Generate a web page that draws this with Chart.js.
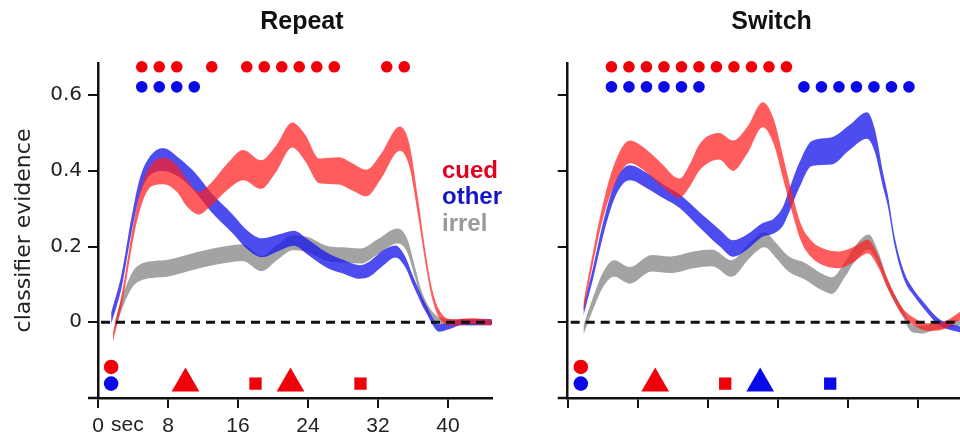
<!DOCTYPE html>
<html>
<head>
<meta charset="utf-8">
<script src="https://cdn.jsdelivr.net/npm/chart.js@4.4.1/dist/chart.umd.min.js"></script>
<style>
  html, body { margin: 0; padding: 0; background: #fff; overflow: hidden; }
  #wrap { position: relative; width: 960px; height: 436px; overflow: hidden; }
  #left { position: absolute; left: 0; top: 0; }
  #right { position: absolute; left: 505px; top: 0; }
</style>
</head>
<body>
<div id="wrap">
  <canvas id="left" width="505" height="436"></canvas>
  <canvas id="right" width="470" height="436"></canvas>
</div>
<script>
// ticks
const xTicks = [0, 8, 16, 24, 32, 40];
const yTicks = [0, 0.2, 0.4, 0.6];

// Repeat panel
const repeatCuedT = [1.7, 2.8, 4.2, 5.2, 6.2, 7.5, 9, 10.2, 11.5, 13, 14.8, 16.6, 18.6, 20.3, 22.2, 23.7, 25.3, 27.5, 29, 30.7, 32.3, 34.5, 35.6, 36.6, 37.5, 38.3, 39.2, 40.5, 42.5, 45];
const repeatCued = [-0.04, 0.07, 0.26, 0.35, 0.39, 0.4, 0.38, 0.34, 0.315, 0.34, 0.385, 0.415, 0.39, 0.43, 0.495, 0.46, 0.4, 0.4, 0.385, 0.368, 0.41, 0.485, 0.44, 0.3, 0.16, 0.065, 0.015, 0.0, 0.003, 0.0];
const repeatCuedErr = [0.012, 0.015, 0.02, 0.025, 0.03, 0.035, 0.035, 0.035, 0.03, 0.03, 0.035, 0.04, 0.038, 0.035, 0.033, 0.035, 0.033, 0.036, 0.036, 0.035, 0.033, 0.032, 0.03, 0.022, 0.015, 0.012, 0.01, 0.008, 0.008, 0.008];

const repeatOtherT = [1.5, 2.7, 3.85, 4.8, 6, 7.5, 9.2, 11.1, 13, 15.3, 17.2, 18.7, 20.6, 22.4, 23.9, 26.1, 28, 29.9, 31, 32.6, 34, 35.1, 36, 37.5, 39, 40.2, 41.5, 43, 45];
const repeatOther = [0.01, 0.11, 0.26, 0.36, 0.415, 0.43, 0.41, 0.37, 0.315, 0.262, 0.215, 0.197, 0.21, 0.222, 0.2, 0.165, 0.147, 0.133, 0.14, 0.17, 0.187, 0.16, 0.11, 0.035, -0.015, -0.01, 0.0, 0.0, 0.0];
const repeatOtherErr = [0.015, 0.018, 0.02, 0.022, 0.025, 0.03, 0.025, 0.025, 0.025, 0.025, 0.025, 0.025, 0.022, 0.02, 0.02, 0.02, 0.018, 0.018, 0.02, 0.02, 0.016, 0.014, 0.012, 0.01, 0.01, 0.008, 0.008, 0.008, 0.008];

const repeatIrrelT = [1.9, 2.9, 4, 5.2, 6.5, 8, 10.3, 12.2, 14.9, 16.5, 18.7, 20.5, 22.3, 24, 26, 28, 30, 32, 34.2, 35.3, 36.2, 37, 38, 39, 40.5, 43, 45];
const repeatIrrel = [-0.01, 0.06, 0.115, 0.135, 0.14, 0.143, 0.157, 0.168, 0.18, 0.184, 0.155, 0.185, 0.21, 0.205, 0.183, 0.178, 0.175, 0.2, 0.228, 0.205, 0.135, 0.07, 0.025, 0.005, 0.0, 0.0, 0.0];
const repeatIrrelErr = [0.012, 0.016, 0.02, 0.022, 0.022, 0.022, 0.022, 0.022, 0.022, 0.022, 0.02, 0.02, 0.02, 0.02, 0.02, 0.02, 0.02, 0.02, 0.02, 0.018, 0.014, 0.012, 0.01, 0.008, 0.008, 0.008, 0.008];

const repeatCuedSig = [5, 7, 9, 13, 17, 19, 21, 23, 25, 27, 33, 35];
const repeatOtherSig = [5, 7, 9, 11];

const repeatMarkT = [1.5, 1.5, 10, 18, 22, 30];
const repeatMarkLevel = [-0.118, -0.162, -0.162, -0.162, -0.162, -0.162];
const repeatMarkShape = ['circle', 'circle', 'triangle', 'rect', 'triangle', 'rect'];
const repeatMarkKind = ['cued', 'other', 'cued', 'cued', 'cued', 'cued'];

// Switch panel
const switchCuedT = [1.8, 2.8, 4.1, 5.5, 7.1, 8.8, 10.5, 12.8, 14, 15.1, 17.3, 18.9, 20.5, 22.3, 23.6, 24.6, 25.6, 26.7, 27.8, 29, 31, 32.6, 34.3, 35.5, 36.6, 38.2, 39.7, 41.2, 42.8, 45];
const switchCued = [0.04, 0.16, 0.3, 0.4, 0.45, 0.43, 0.395, 0.355, 0.39, 0.437, 0.465, 0.44, 0.48, 0.548, 0.5, 0.41, 0.32, 0.235, 0.195, 0.175, 0.165, 0.178, 0.2, 0.16, 0.1, 0.03, 0.0, -0.013, -0.01, 0.02];
const switchCuedErr = [0.012, 0.015, 0.02, 0.028, 0.03, 0.03, 0.03, 0.025, 0.03, 0.035, 0.035, 0.04, 0.035, 0.033, 0.033, 0.03, 0.025, 0.022, 0.022, 0.022, 0.022, 0.02, 0.018, 0.015, 0.012, 0.01, 0.01, 0.01, 0.01, 0.01];

const switchOtherT = [1.8, 2.9, 4.2, 5.6, 7.1, 9, 11, 12.8, 15.1, 17.4, 18.9, 20.5, 22.2, 23.6, 24.6, 25.3, 26.4, 27.9, 30.2, 32.1, 34.2, 35.1, 36, 36.6, 37.4, 38.5, 39.5, 40.5, 42.5, 45];
const switchOther = [0.03, 0.13, 0.26, 0.36, 0.395, 0.375, 0.345, 0.32, 0.27, 0.222, 0.195, 0.212, 0.243, 0.255, 0.28, 0.32, 0.385, 0.446, 0.453, 0.486, 0.52, 0.48, 0.38, 0.32, 0.21, 0.12, 0.08, 0.05, 0.0, -0.02];
const switchOtherErr = [0.012, 0.015, 0.018, 0.02, 0.02, 0.02, 0.018, 0.018, 0.02, 0.022, 0.022, 0.02, 0.018, 0.02, 0.025, 0.03, 0.033, 0.033, 0.036, 0.033, 0.035, 0.03, 0.02, 0.015, 0.012, 0.01, 0.008, 0.008, 0.008, 0.008];

const switchIrrelT = [1.8, 2.9, 4.1, 5.3, 7.1, 9.6, 11.7, 14.4, 16.5, 18.7, 20.8, 22.5, 23.8, 25.2, 27.1, 29, 30.2, 31.7, 32.8, 34.4, 35.5, 36.6, 38.2, 39.3, 40.5, 42, 45];
const switchIrrel = [-0.02, 0.05, 0.115, 0.142, 0.124, 0.156, 0.152, 0.165, 0.17, 0.142, 0.19, 0.218, 0.19, 0.155, 0.135, 0.107, 0.097, 0.14, 0.18, 0.212, 0.17, 0.1, 0.03, -0.015, -0.02, -0.01, 0.0];
const switchIrrelErr = [0.012, 0.016, 0.02, 0.022, 0.022, 0.022, 0.022, 0.022, 0.022, 0.022, 0.02, 0.02, 0.02, 0.02, 0.022, 0.022, 0.022, 0.02, 0.02, 0.02, 0.016, 0.012, 0.01, 0.01, 0.01, 0.01, 0.008];

const switchCuedSig = [5, 7, 9, 11, 13, 15, 17, 19, 21, 23, 25];
const switchOtherSig = [5, 7, 9, 11, 13, 15, 27, 29, 31, 33, 35, 37, 39];

const switchMarkT = [1.5, 1.5, 10, 18, 22, 30];
const switchMarkLevel = [-0.118, -0.162, -0.162, -0.162, -0.162, -0.162];
const switchMarkShape = ['circle', 'circle', 'triangle', 'rect', 'triangle', 'rect'];
const switchMarkKind = ['cued', 'other', 'cued', 'cued', 'other', 'other'];

const sigLevel = {cued: 0.675, other: 0.622};

const bandColor = {cued: 'rgba(255,30,30,0.72)', other: 'rgba(25,25,235,0.78)', irrel: 'rgba(140,140,140,0.8)'};
const markColor = {cued: '#f00008', other: '#0a0ae6'};
const textColor = {cued: '#e3001e', other: '#1414c8', irrel: '#9a9a9a'};

function band(times, mean, err, color, order) {
    var lower = times.map((t, i) => ({x: t, y: mean[i] - err[i]}));
    var upper = times.map((t, i) => ({x: t, y: mean[i] + err[i]}));
    var common = {
        borderWidth: 0,
        borderColor: 'rgba(0,0,0,0)',
        pointRadius: 0,
        cubicInterpolationMode: 'monotone',
        order: order,
    };
    return [
        Object.assign({data: lower, fill: false}, common),
        Object.assign({data: upper, fill: '-1', backgroundColor: color}, common),
    ];
}

function dots(times, kind) {
    return {
        data: times.map((t) => ({x: t, y: sigLevel[kind]})),
        showLine: false,
        pointRadius: 5.8,
        pointBorderWidth: 0,
        pointBackgroundColor: markColor[kind],
        pointBorderColor: markColor[kind],
        clip: false,
        order: 0,
    };
}

function markers(times, levels, shapes, kinds) {
    var size = {circle: 7.3, triangle: 16, rect: 8.7};
    return {
        data: times.map((t, i) => ({x: t, y: levels[i]})),
        showLine: false,
        pointStyle: (c) => shapes[c.dataIndex],
        pointRadius: (c) => size[shapes[c.dataIndex]],
        pointBorderWidth: 0,
        pointBackgroundColor: (c) => markColor[kinds[c.dataIndex]],
        pointBorderColor: (c) => markColor[kinds[c.dataIndex]],
        clip: false,
        order: 0,
    };
}

// dashed zero line, axis corner, title, legend text
function decor(title, showLegend, showSec) {
    return {
        id: 'decor',
        afterDatasetsDraw(chart) {
            var ctx = chart.ctx;
            var a = chart.chartArea;
            var y0 = chart.scales.y.getPixelForValue(0);
            ctx.save();
            ctx.strokeStyle = '#111';
            ctx.lineWidth = 3;
            ctx.setLineDash([9, 6]);
            ctx.beginPath();
            ctx.moveTo(a.left + 3, y0);
            ctx.lineTo(a.right, y0);
            ctx.stroke();
            ctx.restore();
        },
        afterDraw(chart) {
            var ctx = chart.ctx;
            var a = chart.chartArea;
            ctx.save();
            ctx.strokeStyle = '#111';
            ctx.lineWidth = 2.5;
            ctx.beginPath();
            ctx.moveTo(a.left - 10, a.bottom);
            ctx.lineTo(a.left, a.bottom);
            ctx.stroke();

            ctx.fillStyle = '#111';
            ctx.font = 'bold 25px "Liberation Sans", Arial, sans-serif';
            ctx.textAlign = 'center';
            ctx.textBaseline = 'middle';
            ctx.fillText(title, (a.left + a.right) / 2 + 7, a.top - 41);

            if (showLegend) {
                ctx.textAlign = 'left';
                ctx.textBaseline = 'alphabetic';
                ctx.font = 'bold 24px "Liberation Sans", Arial, sans-serif';
                var lx = a.left + 344;
                ctx.fillStyle = textColor.cued;
                ctx.fillText('cued', lx, a.top + 115);
                ctx.fillStyle = textColor.other;
                ctx.fillText('other', lx, a.top + 140.5);
                ctx.fillStyle = textColor.irrel;
                ctx.fillText('irrel', lx, a.top + 168);
            }
            if (showSec) {
                ctx.fillStyle = '#222';
                ctx.textAlign = 'left';
                ctx.textBaseline = 'alphabetic';
                ctx.font = '21px "Liberation Sans", Arial, sans-serif';
                ctx.fillText('sec', chart.scales.x.getPixelForValue(0) + 13, a.bottom + 33);
            }
            ctx.restore();
        },
    };
}

function makeChart(id, opts) {
    var datasets = []
        .concat(band(opts.cuedT, opts.cued, opts.cuedErr, bandColor.cued, 1))
        .concat(band(opts.otherT, opts.other, opts.otherErr, bandColor.other, 2))
        .concat(band(opts.irrelT, opts.irrel, opts.irrelErr, bandColor.irrel, 3));
    datasets.push(dots(opts.cuedSig, 'cued'));
    datasets.push(dots(opts.otherSig, 'other'));
    datasets.push(markers(opts.markT, opts.markLevel, opts.markShape, opts.markKind));

    var axisGrid = {drawOnChartArea: false, drawTicks: true, tickLength: 10, color: '#111', lineWidth: 2};
    var axisBorder = {display: true, color: '#111', width: 2.5};

    return new Chart(document.getElementById(id), {
        type: 'line',
        data: {datasets: datasets},
        options: {
            responsive: false,
            animation: false,
            layout: {padding: {top: 63, left: 0, bottom: 0, right: opts.padRight}},
            plugins: {legend: {display: false}, tooltip: {enabled: false}},
            scales: {
                x: {
                    type: 'linear',
                    min: 0,
                    max: 45,
                    afterBuildTicks: (s) => { s.ticks = xTicks.map((v) => ({value: v})); },
                    afterFit: (s) => { s.height = 38; },
                    border: axisBorder,
                    grid: axisGrid,
                    ticks: {
                        display: opts.labels,
                        maxRotation: 0,
                        padding: 5.5,
                        color: '#222',
                        font: {family: '"Liberation Sans", Arial, sans-serif', size: 21},
                        callback: (v) => String(v),
                    },
                },
                y: {
                    type: 'linear',
                    min: -0.2,
                    max: 0.685,
                    afterBuildTicks: (s) => { s.ticks = yTicks.map((v) => ({value: v})); },
                    afterFit: (s) => { s.width = opts.yWidth; },
                    border: axisBorder,
                    grid: axisGrid,
                    ticks: {
                        display: opts.labels,
                        padding: 6,
                        color: '#222',
                        font: {family: '"DejaVu Sans", sans-serif', size: 20},
                        callback: (v) => (v === 0 ? '0' : v.toFixed(1)),
                    },
                    title: {
                        display: opts.labels,
                        text: 'classifier evidence',
                        color: '#222',
                        font: {family: '"DejaVu Sans", sans-serif', size: 22},
                        padding: {top: 11, bottom: 0},
                    },
                },
            },
        },
        plugins: [decor(opts.title, opts.labels, opts.labels)],
    });
}

makeChart('left', {
    title: 'Repeat', labels: true, yWidth: 98, padRight: 13.25,
    cuedT: repeatCuedT, cued: repeatCued, cuedErr: repeatCuedErr,
    otherT: repeatOtherT, other: repeatOther, otherErr: repeatOtherErr,
    irrelT: repeatIrrelT, irrel: repeatIrrel, irrelErr: repeatIrrelErr,
    cuedSig: repeatCuedSig, otherSig: repeatOtherSig,
    markT: repeatMarkT, markLevel: repeatMarkLevel, markShape: repeatMarkShape, markKind: repeatMarkKind,
});

makeChart('right', {
    title: 'Switch', labels: false, yWidth: 62.7, padRight: 13.55,
    cuedT: switchCuedT, cued: switchCued, cuedErr: switchCuedErr,
    otherT: switchOtherT, other: switchOther, otherErr: switchOtherErr,
    irrelT: switchIrrelT, irrel: switchIrrel, irrelErr: switchIrrelErr,
    cuedSig: switchCuedSig, otherSig: switchOtherSig,
    markT: switchMarkT, markLevel: switchMarkLevel, markShape: switchMarkShape, markKind: switchMarkKind,
});
</script>
</body>
</html>
